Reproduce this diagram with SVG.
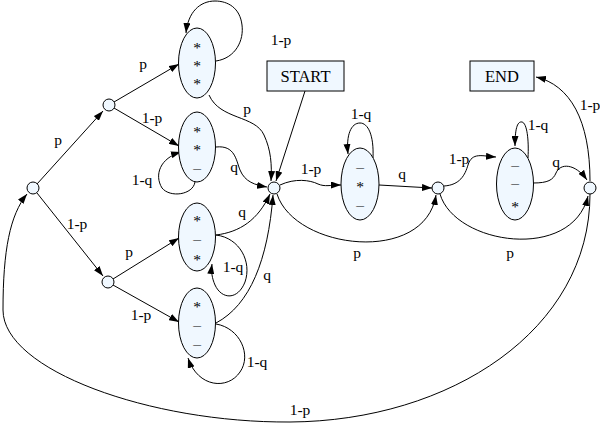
<svg xmlns="http://www.w3.org/2000/svg" width="600" height="427" viewBox="0 0 600 427">
<style>
.n{fill:#F0F8FF;stroke:#000;stroke-width:1}
.e{fill:none;stroke:#000;stroke-width:1}
text{font-family:"Liberation Serif","Times New Roman",serif;font-size:15.5px;fill:#000;text-anchor:middle}
.b{font-size:16.5px}
</style>
<defs>
<marker id="a" markerWidth="10" markerHeight="7" refX="10" refY="3.5" orient="auto" markerUnits="userSpaceOnUse">
<path d="M0,0 L10,3.5 L0,7 z" fill="#000"/>
</marker>
</defs>
<g id="connectors" class="e" marker-end="url(#a)">
<path d="M37,184 L103,111"/>
<path d="M37,193 L103,276"/>
<path d="M114,102 L179,64"/>
<path d="M114,108 L179,146"/>
<path d="M113,279 L179,238"/>
<path d="M113,285 L179,322"/>
<path d="M216,61 C236,58 244,40 242,25 C240,8 228,1 215,1 C200,1 188,12 186,33"/>
<path d="M195,182 C193,195 170,198 162,188 C154,175 160,158 181,152"/>
<path d="M216,235 C240,238 252,262 245,282 C238,300 222,300 215,285 C212,278 211,272 212,264"/>
<path d="M216,324 C240,328 252,355 240,372 C228,390 198,388 188,358"/>
<path d="M373,158 C374,135 368,123 360,123 C351,123 346,135 348,154"/>
<path d="M528,158 C529,140 527,123 522,122 C517,121 515,130 515,146"/>
<path d="M209,95 C220,120 255,115 264,135 C271,150 272,165 271,181"/>
<path d="M305,91 L276,181"/>
<path d="M216,147 C235,145 236,160 240,170 C245,182 255,185 267,187"/>
<path d="M216,235 C240,232 258,220 270,194"/>
<path d="M216,323 C250,305 268,260 273,195"/>
<path d="M280,185 C295,178 310,180 318,184 C325,187 330,185 341,185"/>
<path d="M379,185 L432,188"/>
<path d="M277,194 C295,250 425,265 436,195"/>
<path d="M444,186 C460,185 465,175 468,165 C472,152 482,156 496,157"/>
<path d="M440,194 C455,245 572,262 588,196"/>
<path d="M533,183 C548,183 553,180 556,173 C560,163 575,163 587,180"/>
<path d="M590,181 C590,120 570,85 536,77"/>
<path d="M590,194 C590,330 450,421 290,422 C150,423 3,370 3,310 C3,250 10,215 27,194"/>
</g>
<g id="root"><circle class="n" cx="33" cy="188" r="6"/></g>
<g id="split-upper"><circle class="n" cx="109" cy="105" r="6"/></g>
<g id="split-lower"><circle class="n" cx="108" cy="282" r="6"/></g>
<g id="merge"><circle class="n" cx="274" cy="188" r="6"/></g>
<g id="middle"><circle class="n" cx="438" cy="188" r="6"/></g>
<g id="right"><circle class="n" cx="590" cy="188" r="6"/></g>
<g id="s1"><ellipse class="n" cx="197" cy="63" rx="18.5" ry="35"/><text x="197" y="53">*</text><text x="197" y="71">*</text><text x="197" y="89">*</text></g>
<g id="s2"><ellipse class="n" cx="197" cy="147" rx="18.5" ry="35"/><text x="197" y="137">*</text><text x="197" y="155">*</text><text x="197" y="173">–</text></g>
<g id="s3"><ellipse class="n" cx="197" cy="237" rx="18.5" ry="34"/><text x="197" y="226">*</text><text x="197" y="244">–</text><text x="197" y="265">*</text></g>
<g id="s4"><ellipse class="n" cx="197" cy="323" rx="18.5" ry="35"/><text x="197" y="312">*</text><text x="197" y="330">–</text><text x="197" y="349">–</text></g>
<g id="s5"><ellipse class="n" cx="360" cy="184" rx="19" ry="36"/><text x="360" y="172">–</text><text x="360" y="192">*</text><text x="360" y="210">–</text></g>
<g id="s6"><ellipse class="n" cx="515" cy="184" rx="18.5" ry="36"/><text x="515" y="170">–</text><text x="515" y="188">–</text><text x="515" y="212">*</text></g>
<g id="start"><rect class="n" x="267" y="61" width="77" height="30"/><text class="b" x="305.5" y="82">START</text></g>
<g id="end"><rect class="n" x="470" y="61" width="64" height="30"/><text class="b" x="502" y="82">END</text></g>
<g id="labels">
<text x="281" y="45">1-p</text>
<text x="58" y="145">p</text>
<text x="143" y="69">p</text>
<text x="152" y="123">1-p</text>
<text x="142" y="185">1-q</text>
<text x="247" y="114">p</text>
<text x="234" y="172">q</text>
<text x="77" y="229">1-p</text>
<text x="129" y="257">p</text>
<text x="141" y="320">1-p</text>
<text x="242" y="217">q</text>
<text x="233" y="272">1-q</text>
<text x="267" y="280">q</text>
<text x="257" y="367">1-q</text>
<text x="300" y="415">1-p</text>
<text x="311" y="174">1-p</text>
<text x="361" y="119">1-q</text>
<text x="402" y="179">q</text>
<text x="357" y="258">p</text>
<text x="459" y="164">1-p</text>
<text x="538" y="130">1-q</text>
<text x="556" y="167">q</text>
<text x="510" y="258">p</text>
<text x="590" y="110">1-p</text>
</g>
</svg>
